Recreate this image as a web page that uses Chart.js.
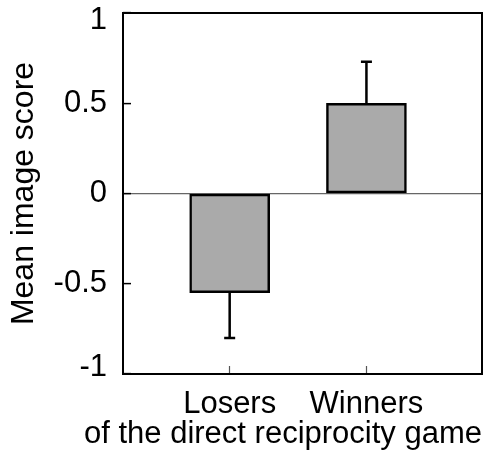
<!DOCTYPE html>
<html>
<head>
<meta charset="utf-8">
<script src="https://cdn.jsdelivr.net/npm/chart.js@4"></script>
<style>
  html, body { margin: 0; padding: 0; background: #fff; }
</style>
</head>
<body>
<canvas id="chart" width="497" height="461"></canvas>
<script>
const categories = ['Losers', 'Winners'];
const xPositions = [1, 2];
const meanScores = [-0.55, 0.5];
const errLengths = [0.25, 0.23];
const yTicks = [-1, -0.5, 0, 0.5, 1];
const xTitle = 'of the direct reciprocity game';
const yTitle = 'Mean image score';

const FONT = 'Arial, Helvetica, sans-serif';

// frame round the plot + one-sided error bars
const extras = {
  id: 'extras',
  afterDatasetsDraw(chart) {
    const ctx = chart.ctx;
    const y = chart.scales.y;
    const meta = chart.getDatasetMeta(0);
    ctx.save();
    ctx.strokeStyle = '#000';
    ctx.lineWidth = 2.5;
    meta.data.forEach((bar, i) => {
      const v = meanScores[i];
      const end = v + Math.sign(v) * errLengths[i];
      const y0 = y.getPixelForValue(v);
      const y1 = y.getPixelForValue(end);
      ctx.beginPath();
      ctx.moveTo(bar.x, y0);
      ctx.lineTo(bar.x, y1);
      ctx.moveTo(bar.x - 5.5, y1);
      ctx.lineTo(bar.x + 5.5, y1);
      ctx.stroke();
    });
    const a = chart.chartArea;
    ctx.lineWidth = 2;
    ctx.strokeRect(a.left, a.top, a.right - a.left, a.bottom - a.top);
    ctx.restore();
  }
};

// end labels sit a little inside the frame, like the original
const edge = v => Math.abs(v) === 1;

new Chart(document.getElementById('chart'), {
  type: 'bar',
  data: {
    datasets: [{
      data: xPositions.map((x, i) => ({ x, y: meanScores[i] })),
      backgroundColor: '#aaaaaa',
      borderColor: '#000',
      borderWidth: 2.5,
      borderSkipped: false,
      barThickness: 80
    }]
  },
  options: {
    responsive: false,
    animation: false,
    layout: { padding: { left: 0, right: 15, top: 0, bottom: 0 } },
    plugins: {
      legend: { display: false },
      tooltip: { enabled: false },
      title: {
        display: true,
        position: 'bottom',
        align: 'end',
        text: xTitle,
        color: '#000',
        font: { family: FONT, size: 31, weight: 'normal', lineHeight: 1 },
        padding: { top: 0, bottom: 11.5 }
      }
    },
    scales: {
      x: {
        type: 'linear',
        min: 0.22,
        max: 2.845,
        offset: false,
        afterBuildTicks: s => { s.ticks = xPositions.map(v => ({ value: v })); },
        afterFit: s => { s.height = 44.5; },
        ticks: {
          callback: v => categories[xPositions.indexOf(v)],
          color: '#000',
          font: { family: FONT, size: 31, lineHeight: 1 },
          padding: 22.5,
          maxRotation: 0,
          autoSkip: false
        },
        grid: { offset: false, drawOnChartArea: false, tickLength: -8, tickColor: '#555', tickWidth: 1.2 },
        border: { display: false }
      },
      y: {
        min: -1,
        max: 1,
        afterBuildTicks: s => { s.ticks = yTicks.map(v => ({ value: v })); },
        afterFit: s => {
          s.width = 123;
          s.paddingTop = 13;
          s.paddingBottom = 0;
        },
        ticks: {
          callback: v => (v === 1 ? ['', '1'] : v === -1 ? ['-1', ''] : String(v)),
          color: '#000',
          font: c => ({
            family: FONT,
            size: 31,
            lineHeight: c.tick && edge(c.tick.value) ? 14 / 31 : 1
          }),
          padding: 24
        },
        grid: {
          color: c => (c.tick && c.tick.value === 0 ? '#666' : 'rgba(0,0,0,0)'),
          lineWidth: 1.2,
          tickLength: -8,
          tickColor: '#000',
          tickWidth: 1.5
        },
        border: { display: false },
        title: {
          display: true,
          text: yTitle,
          color: '#000',
          font: { family: FONT, size: 32, lineHeight: 1 },
          padding: { top: 8, bottom: 0 }
        }
      }
    }
  },
  plugins: [extras]
});
</script>
</body>
</html>
